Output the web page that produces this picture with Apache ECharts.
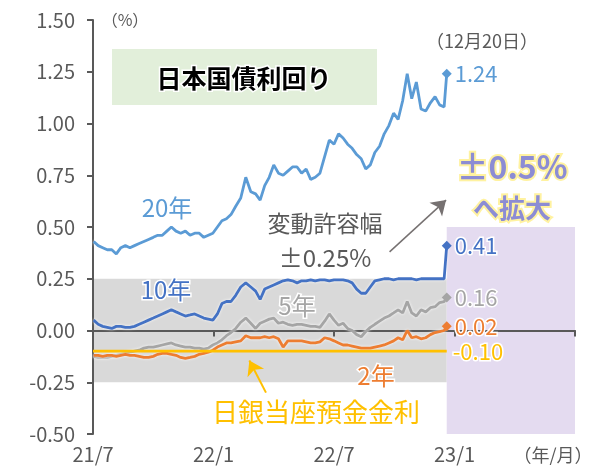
<!DOCTYPE html>
<html>
<head>
<meta charset="utf-8">
<script src="https://cdn.jsdelivr.net/npm/echarts/dist/echarts.min.js"></script>
<style>
html, body { margin: 0; padding: 0; background: #fff; }
#main { width: 597px; height: 471px; }
</style>
</head>
<body>
<div id="main"></div>
<script>
// x軸ラベル（6か月ごと）
const xTickLabels = ['21/7', '22/1', '22/7', '23/1'];
// 週次（2021/7/2〜2022/12/16）＋ 12/19, 12/20
const firstDate = '2021-07-02';
const weekCount = 77;
const lastDates = ['2022-12-19', '2022-12-20'];

const yield20 = [
  0.43, 0.41, 0.40, 0.39, 0.39, 0.37, 0.40, 0.41, 0.40, 0.41,
  0.42, 0.43, 0.44, 0.45, 0.46, 0.46, 0.48, 0.50, 0.48, 0.47,
  0.48, 0.46, 0.47, 0.47, 0.45, 0.46, 0.47, 0.50, 0.53, 0.54,
  0.56, 0.60, 0.64, 0.74, 0.67, 0.66, 0.63, 0.70, 0.74, 0.80,
  0.76, 0.75, 0.77, 0.79, 0.79, 0.76, 0.78, 0.73, 0.74, 0.76,
  0.84, 0.92, 0.90, 0.95, 0.93, 0.90, 0.88, 0.85, 0.83, 0.78,
  0.80, 0.86, 0.89, 0.95, 0.99, 1.05, 1.02, 1.11, 1.24, 1.12,
  1.20, 1.07, 1.06, 1.10, 1.13, 1.09, 1.08,
  1.08, 1.24
];
const yield10 = [
  0.05, 0.03, 0.02, 0.015, 0.01, 0.02, 0.02, 0.015, 0.015, 0.02,
  0.03, 0.04, 0.05, 0.06, 0.07, 0.08, 0.09, 0.10, 0.09, 0.08,
  0.07, 0.075, 0.08, 0.07, 0.06, 0.055, 0.05, 0.08, 0.13, 0.14,
  0.14, 0.17, 0.21, 0.23, 0.21, 0.19, 0.15, 0.20, 0.21, 0.22,
  0.23, 0.24, 0.245, 0.24, 0.23, 0.24, 0.24, 0.245, 0.24, 0.245,
  0.245, 0.24, 0.245, 0.245, 0.245, 0.24, 0.23, 0.20, 0.18, 0.18,
  0.21, 0.24, 0.245, 0.25, 0.25, 0.245, 0.25, 0.25, 0.25, 0.25,
  0.245, 0.25, 0.25, 0.25, 0.25, 0.25, 0.25,
  0.25, 0.41
];
const yield5 = [
  -0.125, -0.13, -0.13, -0.13, -0.125, -0.12, -0.115, -0.11, -0.105, -0.10,
  -0.095, -0.085, -0.08, -0.08, -0.075, -0.07, -0.065, -0.06, -0.07, -0.075,
  -0.08, -0.08, -0.085, -0.085, -0.09, -0.085, -0.07, -0.06, -0.045, -0.025,
  -0.01, 0.01, 0.04, 0.06, 0.035, 0.01, 0.035, 0.045, 0.055, 0.06,
  0.035, 0.04, 0.03, 0.025, 0.03, 0.03, 0.025, 0.02, 0.02, 0.015,
  0.045, 0.08, 0.05, 0.025, 0.035, 0.01, 0.0, -0.02, -0.03, -0.005,
  0.015, 0.03, 0.045, 0.06, 0.07, 0.085, 0.10, 0.085, 0.14, 0.085,
  0.07, 0.10, 0.09, 0.11, 0.115, 0.135, 0.14,
  0.145, 0.16
];
const yield2 = [
  -0.12, -0.12, -0.125, -0.12, -0.12, -0.125, -0.12, -0.115, -0.12, -0.12,
  -0.125, -0.13, -0.13, -0.125, -0.115, -0.11, -0.11, -0.115, -0.12, -0.13,
  -0.135, -0.13, -0.125, -0.115, -0.11, -0.105, -0.095, -0.08, -0.07, -0.06,
  -0.06, -0.055, -0.05, -0.025, -0.035, -0.035, -0.035, -0.03, -0.035, -0.03,
  -0.04, -0.08, -0.05, -0.05, -0.05, -0.05, -0.055, -0.06, -0.06, -0.055,
  -0.035, -0.04, -0.05, -0.06, -0.07, -0.07, -0.075, -0.08, -0.085, -0.085,
  -0.085, -0.08, -0.075, -0.07, -0.06, -0.05, -0.035, -0.045, 0.0, -0.035,
  -0.03, -0.04, -0.035, -0.02, -0.01, -0.005, 0.0,
  0.005, 0.02
];
// 日銀当座預金金利
const bojRate = -0.10;
// 変動許容幅
const bandOld = [-0.25, 0.25];
const bandNew = [-0.5, 0.5];

// 日付 → 2021/7 からの月数
function toMonths (s) {
  const [y, m, d] = s.split('-').map(Number);
  const dim = new Date(Date.UTC(y, m, 0)).getUTCDate();
  return (y - 2021) * 12 + (m - 7) + (d - 1) / dim;
}

const dates = [];
for (let k = 0; k < weekCount; k++) {
  const t = Date.UTC(2021, 6, 2) + k * 7 * 86400000;
  dates.push(new Date(t).toISOString().slice(0, 10));
}
dates.push(...lastDates);
const xs = dates.map(toMonths);
const xEnd = xs[xs.length - 1];

function pairs (arr) {
  return arr.map((v, i) => [xs[i], v]);
}

const gray = '#595959';
const font = '"Noto Sans CJK JP", "Noto Sans", sans-serif';

function lineSeries (name, data, color) {
  const n = data.length;
  return {
    name: name,
    type: 'line',
    z: 3,
    data: pairs(data),
    showSymbol: true,
    showAllSymbol: true,
    symbol: (v, p) => (p.dataIndex === n - 1 ? 'diamond' : 'none'),
    symbolSize: 10,
    itemStyle: { color: color },
    lineStyle: { color: color, width: 2.8, shadowColor: 'rgba(255,255,255,0.9)', shadowBlur: 3 },
    endLabel: {
      show: true,
      formatter: p => p.value[1].toFixed(2),
      color: color,
      fontSize: 22,
      fontFamily: font,
      distance: 8,
      textBorderColor: '#fff',
      textBorderWidth: 3
    },
    emphasis: { disabled: true }
  };
}

// 注記テキスト
function note (text, x, y, size, color, extra) {
  return Object.assign({
    type: 'text', x: x, y: y, z: 100,
    style: {
      text: text, font: size + 'px ' + font, fill: color,
      stroke: '#fff', lineWidth: 3, strokeFirst: true,
      textAlign: 'center', textVerticalAlign: 'middle'
    }
  }, extra || {});
}

const chart = echarts.init(document.getElementById('main'));
chart.setOption({
  animation: false,
  textStyle: { fontFamily: font },
  grid: { left: 93, right: 22, top: 20, bottom: 37, containLabel: false },
  xAxis: [
    {
      type: 'value', min: 0, max: 24, interval: 6, position: 'bottom',
      axisLine: { show: false, onZero: false },
      axisTick: { show: false },
      splitLine: { show: false },
      axisLabel: {
        formatter: v => xTickLabels[v / 6] || '',
        color: gray, fontSize: 20, margin: 10
      }
    },
    {
      type: 'value', min: 0, max: 24, interval: 6, position: 'top', z: 2,
      axisLine: { onZero: true, lineStyle: { color: gray, width: 2 } },
      axisTick: { inside: true, length: 6, lineStyle: { color: gray, width: 2 } },
      axisLabel: { show: false },
      splitLine: { show: false }
    }
  ],
  yAxis: {
    type: 'value', min: -0.5, max: 1.5, interval: 0.25, z: 2,
    axisLine: { show: true, onZero: false, lineStyle: { color: gray, width: 2 } },
    axisTick: { show: true, length: 6, lineStyle: { color: gray, width: 2 } },
    axisLabel: { formatter: v => v.toFixed(2), color: gray, fontSize: 20, margin: 18 },
    splitLine: { show: false }
  },
  series: [
    {
      type: 'line', z: 1, data: [],
      markArea: {
        silent: true,
        data: [
          [{ coord: [0, bandOld[0]], itemStyle: { color: '#d9d9d9' } }, { coord: [xEnd, bandOld[1]] }],
          [{ coord: [xEnd, bandNew[0]], itemStyle: { color: '#e4dbf0' } }, { coord: [24, bandNew[1]] }]
        ]
      }
    },
    lineSeries('20年', yield20, '#5b9bd5'),
    lineSeries('10年', yield10, '#4472c4'),
    lineSeries('5年', yield5, '#a5a5a5'),
    lineSeries('2年', yield2, '#ed7d31'),
    {
      name: '日銀当座預金金利',
      type: 'line',
      z: 3,
      data: [[0, bojRate], [xEnd, bojRate]],
      showSymbol: false,
      lineStyle: { color: '#ffc000', width: 2.8 },
      endLabel: {
        show: true,
        formatter: p => p.value[1].toFixed(2),
        color: '#ffc000', fontSize: 22, fontFamily: font, distance: 6,
        textBorderColor: '#fff', textBorderWidth: 3
      },
      markLine: {
        silent: true,
        symbolSize: 14,
        label: { show: false },
        data: [
          [
            { coord: [toMonths('2022-03-20'), -0.30], symbol: 'none', lineStyle: { color: '#ffc000', width: 2, type: 'solid' } },
            { coord: [toMonths('2022-02-23'), -0.145], symbol: 'arrow' }
          ],
          [
            { coord: [toMonths('2022-09-24'), 0.38], symbol: 'none', lineStyle: { color: '#767171', width: 1.5, type: 'solid' } },
            { coord: [toMonths('2022-12-19'), 0.63], symbol: 'arrow' }
          ]
        ]
      },
      emphasis: { disabled: true }
    }
  ],
  graphic: [
    { type: 'rect', shape: { x: 112, y: 49, width: 265, height: 56 }, style: { fill: '#e2efda' }, z: 0 },
    note('日本国債利回り', 244, 78, 25, '#000', { style: { text: '日本国債利回り', font: 'bold 25px ' + font, fill: '#000', stroke: '#fff', lineWidth: 3, strokeFirst: true, textAlign: 'center', textVerticalAlign: 'middle' } }),
    note('（%）', 125, 20, 16, gray),
    note('（12月20日）', 482, 41, 18, gray),
    note('20年', 167, 208, 24, '#5b9bd5'),
    note('10年', 166, 290, 24, '#4472c4'),
    note('5年', 297, 306, 24, '#a5a5a5'),
    note('2年', 376, 376, 24, '#ed7d31'),
    note('日銀当座預金金利', 316, 412, 26, '#ffc000'),
    note('変動許容幅', 325, 223, 23, gray),
    note('±0.25%', 325, 258, 24, gray),
    note('±0.5%', 512, 167, 32, '#8c8cd4', { style: { text: '±0.5%', font: 'bold 32px ' + font, fill: '#8c8cd4', stroke: '#fff2a0', lineWidth: 4, strokeFirst: true, textAlign: 'center', textVerticalAlign: 'middle' } }),
    note('へ拡大', 512, 208, 26, '#8c8cd4', { style: { text: 'へ拡大', font: 'bold 26px ' + font, fill: '#8c8cd4', stroke: '#fff2a0', lineWidth: 4, strokeFirst: true, textAlign: 'center', textVerticalAlign: 'middle' } }),
    note('（年/月）', 553, 455, 18, gray)
  ]
});
</script>
</body>
</html>
